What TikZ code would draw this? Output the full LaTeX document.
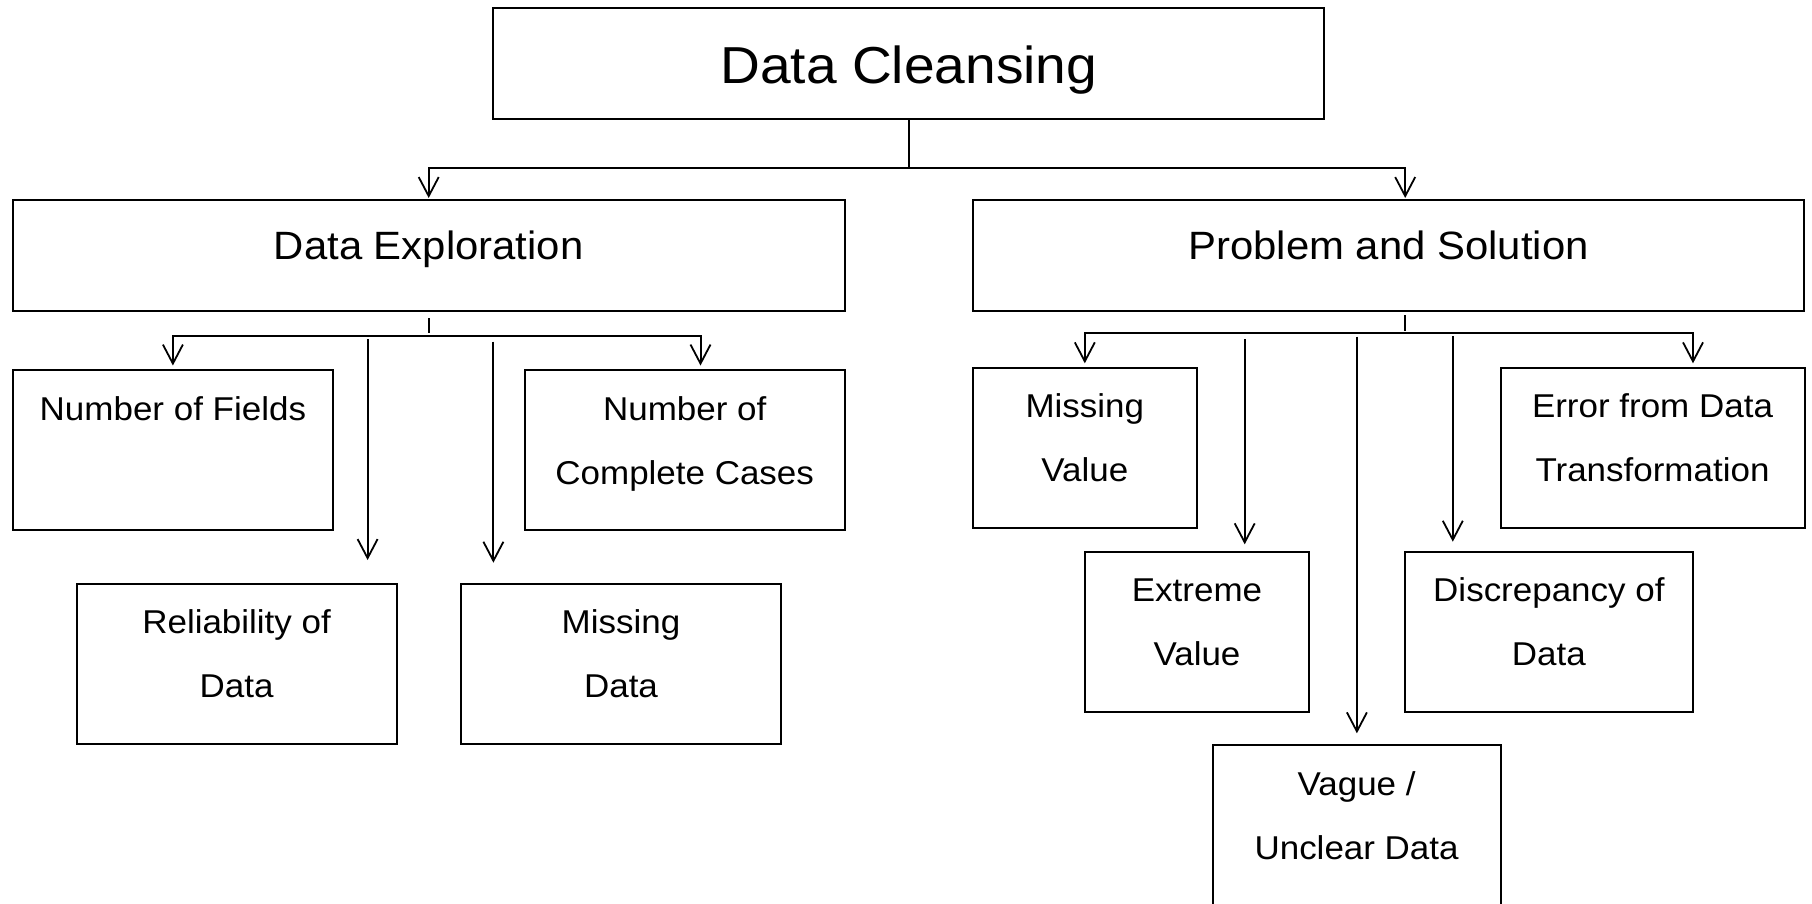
\documentclass[tikz,border=0pt]{standalone}
\usepackage{fontspec}
\setmainfont[FakeStretch=1.06]{Liberation Sans}
\usetikzlibrary{arrows.meta}
\begin{document}
\begin{tikzpicture}[x=1pt,y=-1pt,
  box/.style={draw, line width=2pt, rectangle, inner sep=0pt},
  headbox/.style={box, minimum width=831pt, minimum height=111pt},
  itembox/.style={box, minimum height=160pt},
  titletext/.style={inner sep=0pt, anchor=base, font=\fontsize{52}{60}\selectfont},
  headtext/.style={inner sep=0pt, anchor=base, font=\fontsize{39.5}{46}\selectfont},
  itemtext/.style={inner sep=0pt, anchor=base, font=\fontsize{33}{40}\selectfont},
  conn/.style={line width=2pt},
  ticket/.style={line width=1.6pt},
  arr/.style={conn, -{Straight Barb[length=19pt,width=20pt,line width=1.8pt]}}
]
\useasboundingbox (0,0) rectangle (1812,903);

% ---- top level ----
\node[headbox] (top) at (908.9,63.5) {};
\node[titletext] (topT) at ([yshift=-76pt]top.north) {Data Cleansing};

% ---- second level ----
\node[headbox, minimum width=832pt] (DE) at (428.7,255.5) {};
\node[headtext] (DET) at ([yshift=-60pt]DE.north) {Data Exploration};
\node[headbox] (PS) at (1388.5,255.5) {};
\node[headtext] (PST) at ([yshift=-60pt]PS.north) {Problem and Solution};

% ---- exploration items ----
\node[itembox, minimum width=320pt] (NF) at (172.9,450) {};
\node[itemtext] (NFa) at ([yshift=-51pt]NF.north) {Number of Fields};

\node[itembox, minimum width=320pt] (NCC) at (684.7,450) {};
\node[itemtext] (NCCa) at ([yshift=-51pt]NCC.north) {Number of};
\node[itemtext] (NCCb) at ([yshift=-115pt]NCC.north) {Complete Cases};

\node[itembox, minimum width=320pt] (REL) at (236.6,663.7) {};
\node[itemtext] (RELa) at ([yshift=-51pt]REL.north) {Reliability of};
\node[itemtext] (RELb) at ([yshift=-115pt]REL.north) {Data};

\node[itembox, minimum width=320pt] (MD) at (621,663.7) {};
\node[itemtext] (MDa) at ([yshift=-51pt]MD.north) {Missing};
\node[itemtext] (MDb) at ([yshift=-115pt]MD.north) {Data};

% ---- problem items ----
\node[itembox, minimum width=224pt] (MV) at (1084.8,447.7) {};
\node[itemtext] (MVa) at ([yshift=-51pt]MV.north) {Missing};
\node[itemtext] (MVb) at ([yshift=-115pt]MV.north) {Value};

\node[itembox, minimum width=304pt] (ERR) at (1652.5,447.7) {};
\node[itemtext] (ERRa) at ([yshift=-51pt]ERR.north) {Error from Data};
\node[itemtext] (ERRb) at ([yshift=-115pt]ERR.north) {Transformation};

\node[itembox, minimum width=224pt] (EXT) at (1197,631.7) {};
\node[itemtext] (EXTa) at ([yshift=-51pt]EXT.north) {Extreme};
\node[itemtext] (EXTb) at ([yshift=-115pt]EXT.north) {Value};

\node[itembox, minimum width=288pt] (DISC) at (1548.9,631.7) {};
\node[itemtext] (DISCa) at ([yshift=-51pt]DISC.north) {Discrepancy of};
\node[itemtext] (DISCb) at ([yshift=-115pt]DISC.north) {Data};

\node[itembox, minimum width=288pt] (VAG) at (1356.6,825) {};
\node[itemtext] (VAGa) at ([yshift=-51pt]VAG.north) {Vague /};
\node[itemtext] (VAGb) at ([yshift=-115pt]VAG.north) {Unclear Data};

% ---- connectors: top level ----
\coordinate (busT) at (908.9,167.6);
\draw[conn] (top.south) -- (busT);
\draw[arr, shorten >=1pt] (busT) -| (DE.north);
\draw[arr, shorten >=1pt] (busT) -| ([xshift=16.7pt]PS.north);

% ---- connectors: exploration ----
\coordinate (deTick) at (428.7,318);
\coordinate (deBus) at (428.7,335.7);
\draw[ticket] (deTick) -- ([yshift=2.7pt]deBus);
\draw[arr, shorten >=3.5pt] (deBus) -| (NF.north);
\draw[arr, shorten >=3.5pt] (deBus) -| ([xshift=15.8pt]NCC.north);
\coordinate (relS) at (367.6,339);
\draw[arr, shorten >=22.7pt] (relS) -- (relS |- REL.north);
\coordinate (mdS) at (493.4,341.7);
\draw[arr, shorten >=20pt] (mdS) -- (mdS |- MD.north);

% ---- connectors: problems ----
\coordinate (psTick) at (1405,315);
\coordinate (psBus) at (1405,333.3);
\draw[ticket] (psTick) -- ([yshift=2.6pt]psBus);
\draw[arr, shorten >=3.4pt] (psBus) -| (MV.north);
\draw[arr, shorten >=3.4pt] (psBus) -| ([xshift=40.5pt]ERR.north);
\coordinate (extS) at (1244.7,339.3);
\draw[arr, shorten >=6.4pt] (extS) -- (extS |- EXT.north);
\coordinate (vagS) at (1356.9,336.7);
\draw[arr, shorten >=10.7pt] (vagS) -- (vagS |- VAG.north);
\coordinate (disS) at (1452.8,336);
\draw[arr, shorten >=9pt] (disS) -- (disS |- DISC.north);
\end{tikzpicture}
\end{document}
